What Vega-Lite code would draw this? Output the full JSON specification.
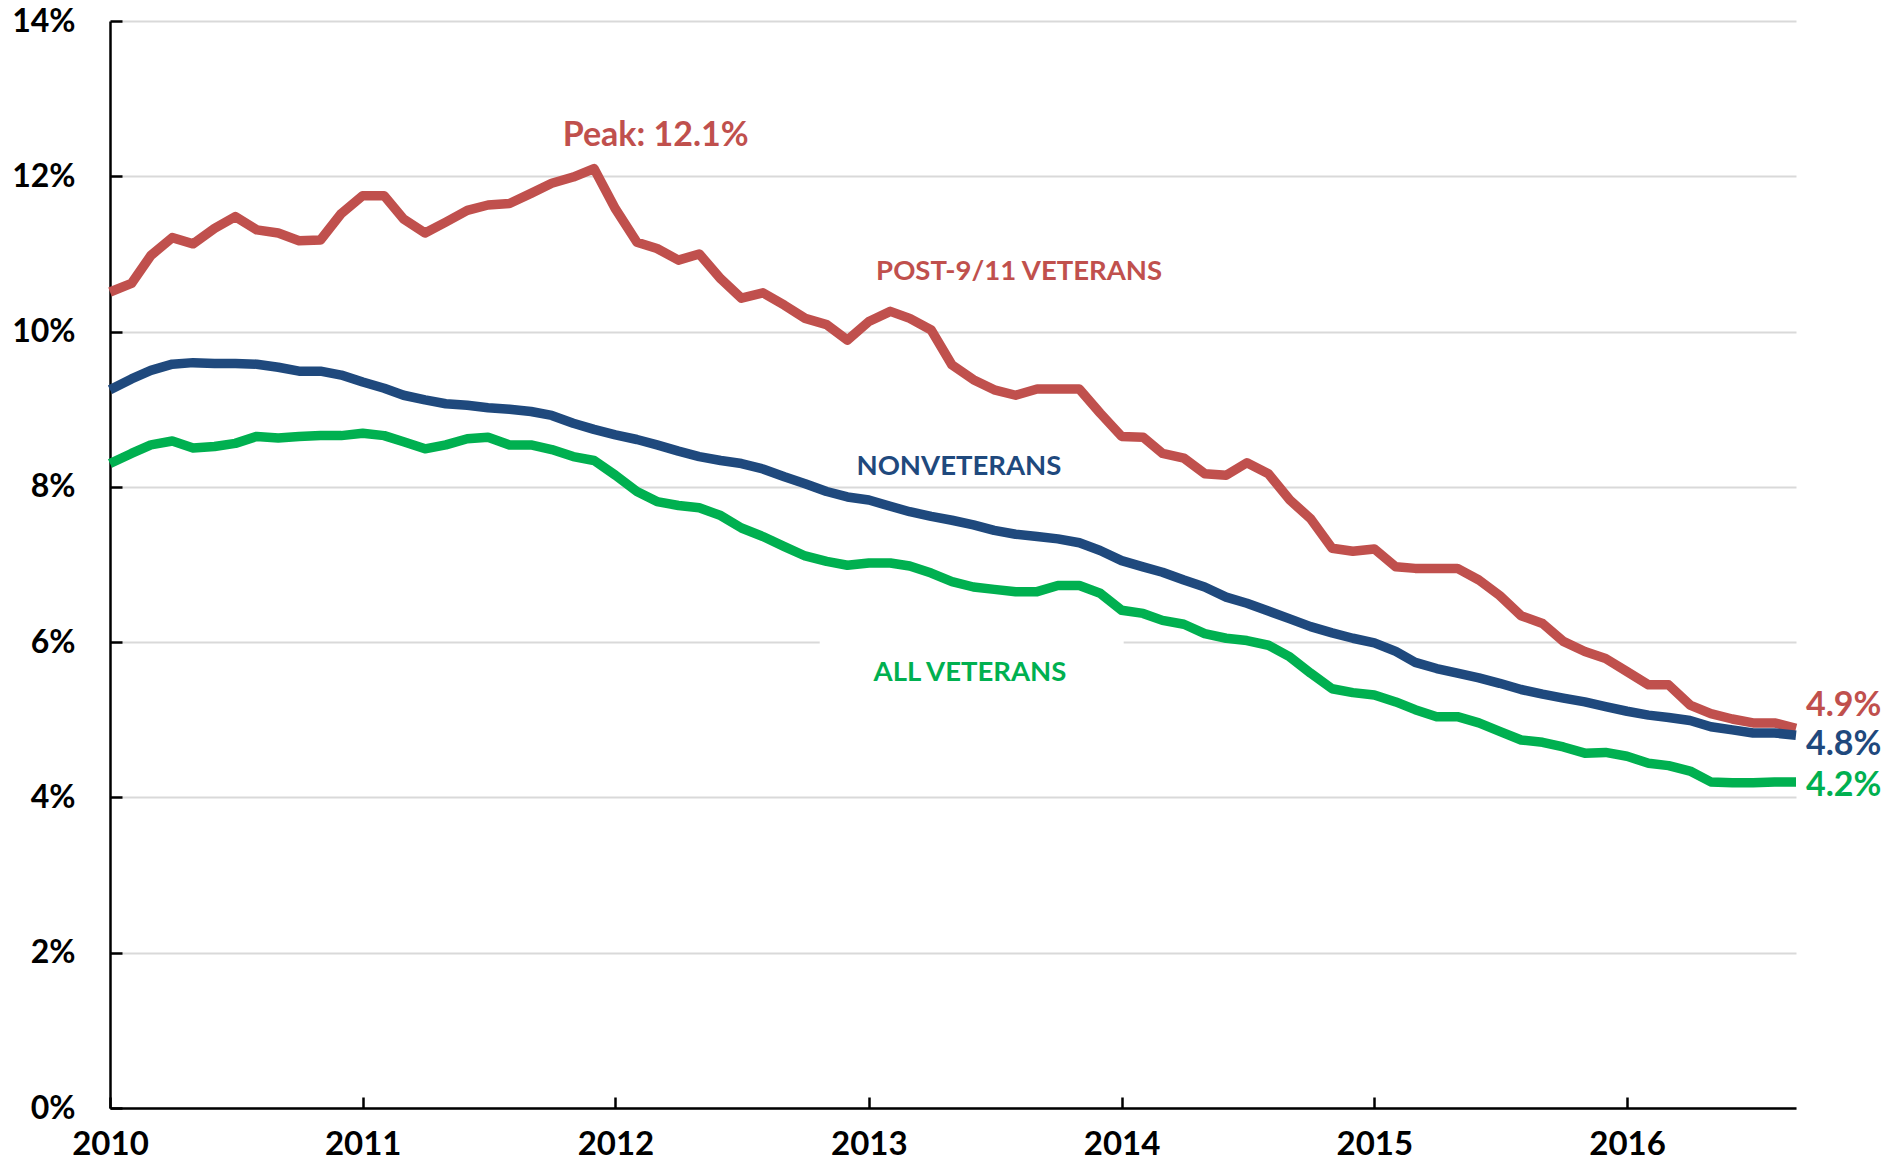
{
  "$schema": "https://vega.github.io/schema/vega-lite/v6.json",
  "width": 1686,
  "height": 1087,
  "autosize": {"type": "none"},
  "padding": {"left": 110, "top": 21, "right": 108, "bottom": 54},
  "background": "white",
  "config": {
    "view": {"stroke": null},
    "font": "Lato",
    "text": {"font": "Lato", "fontWeight": "bold"}
  },
  "encoding": {
    "x": {
      "field": "date",
      "type": "temporal",
      "title": null,
      "scale": {
        "type": "utc",
        "domain": [
          {"year": 2010, "month": 1, "date": 1, "utc": true},
          {"year": 2016, "month": 9, "date": 1, "utc": true}
        ]
      },
      "axis": {
        "values": [
          {"year": 2010, "month": 1, "date": 1, "utc": true},
          {"year": 2011, "month": 1, "date": 1, "utc": true},
          {"year": 2012, "month": 1, "date": 1, "utc": true},
          {"year": 2013, "month": 1, "date": 1, "utc": true},
          {"year": 2014, "month": 1, "date": 1, "utc": true},
          {"year": 2015, "month": 1, "date": 1, "utc": true},
          {"year": 2016, "month": 1, "date": 1, "utc": true}
        ],
        "format": "%Y",
        "formatType": "utc",
        "grid": false,
        "domainColor": "black",
        "domainWidth": 2.5,
        "tickColor": "black",
        "tickWidth": 2.5,
        "tickSize": -11,
        "labelPadding": 31,
        "labelFont": "Lato",
        "labelFontSize": 33,
        "labelFontWeight": "bold",
        "labelColor": "black",
        "labelFlush": false,
        "labelOverlap": false,
        "labelBound": false
      }
    },
    "y": {
      "field": "value",
      "type": "quantitative",
      "title": null,
      "scale": {"domain": [0, 14], "nice": false, "zero": true},
      "axis": {
        "values": [0, 2, 4, 6, 8, 10, 12, 14],
        "labelExpr": "datum.value + '%'",
        "grid": true,
        "gridColor": "#d9d9d9",
        "gridWidth": 2,
        "domainColor": "black",
        "domainWidth": 2.5,
        "tickColor": "black",
        "tickWidth": 2.5,
        "tickSize": -12,
        "labelPadding": 47,
        "labelFont": "Lato",
        "labelFontSize": 32,
        "labelFontWeight": "bold",
        "labelColor": "black",
        "labelFlush": false,
        "labelOverlap": false,
        "labelBound": false
      }
    }
  },
  "layer": [
    {
      "data": {"values": [{"date": "2012-10-22", "date2": "2014-01-04", "value": 5.93, "value2": 6.07}]},
      "mark": {"type": "rect", "color": "white"},
      "encoding": {
        "x2": {"field": "date2"},
        "y2": {"field": "value2"}
      }
    },
    {
      "data": {"values": [
        {"date": "2010-01-01", "post": 10.51, "non": 9.25, "all": 8.30},
        {"date": "2010-02-01", "post": 10.62, "non": 9.39, "all": 8.43},
        {"date": "2010-03-01", "post": 10.98, "non": 9.50, "all": 8.54},
        {"date": "2010-04-01", "post": 11.21, "non": 9.58, "all": 8.59},
        {"date": "2010-05-01", "post": 11.13, "non": 9.60, "all": 8.50},
        {"date": "2010-06-01", "post": 11.33, "non": 9.59, "all": 8.52},
        {"date": "2010-07-01", "post": 11.48, "non": 9.59, "all": 8.56},
        {"date": "2010-08-01", "post": 11.31, "non": 9.58, "all": 8.65},
        {"date": "2010-09-01", "post": 11.27, "non": 9.54, "all": 8.63},
        {"date": "2010-10-01", "post": 11.17, "non": 9.49, "all": 8.65},
        {"date": "2010-11-01", "post": 11.18, "non": 9.49, "all": 8.66},
        {"date": "2010-12-01", "post": 11.52, "non": 9.44, "all": 8.66},
        {"date": "2011-01-01", "post": 11.75, "non": 9.35, "all": 8.69},
        {"date": "2011-02-01", "post": 11.75, "non": 9.27, "all": 8.66},
        {"date": "2011-03-01", "post": 11.45, "non": 9.18, "all": 8.58},
        {"date": "2011-04-01", "post": 11.27, "non": 9.12, "all": 8.49},
        {"date": "2011-05-01", "post": 11.41, "non": 9.07, "all": 8.54},
        {"date": "2011-06-01", "post": 11.56, "non": 9.05, "all": 8.62},
        {"date": "2011-07-01", "post": 11.63, "non": 9.02, "all": 8.64},
        {"date": "2011-08-01", "post": 11.65, "non": 9.00, "all": 8.54},
        {"date": "2011-09-01", "post": 11.78, "non": 8.97, "all": 8.54},
        {"date": "2011-10-01", "post": 11.91, "non": 8.92, "all": 8.48},
        {"date": "2011-11-01", "post": 11.99, "non": 8.82, "all": 8.39},
        {"date": "2011-12-01", "post": 12.10, "non": 8.74, "all": 8.34},
        {"date": "2012-01-01", "post": 11.58, "non": 8.67, "all": 8.15},
        {"date": "2012-02-01", "post": 11.15, "non": 8.61, "all": 7.94},
        {"date": "2012-03-01", "post": 11.07, "non": 8.54, "all": 7.81},
        {"date": "2012-04-01", "post": 10.92, "non": 8.46, "all": 7.76},
        {"date": "2012-05-01", "post": 11.00, "non": 8.39, "all": 7.73},
        {"date": "2012-06-01", "post": 10.68, "non": 8.34, "all": 7.63},
        {"date": "2012-07-01", "post": 10.43, "non": 8.30, "all": 7.47},
        {"date": "2012-08-01", "post": 10.50, "non": 8.23, "all": 7.36},
        {"date": "2012-09-01", "post": 10.34, "non": 8.13, "all": 7.23},
        {"date": "2012-10-01", "post": 10.17, "non": 8.04, "all": 7.11},
        {"date": "2012-11-01", "post": 10.09, "non": 7.94, "all": 7.04},
        {"date": "2012-12-01", "post": 9.89, "non": 7.87, "all": 6.99},
        {"date": "2013-01-01", "post": 10.13, "non": 7.83, "all": 7.02},
        {"date": "2013-02-01", "post": 10.26, "non": 7.75, "all": 7.02},
        {"date": "2013-03-01", "post": 10.17, "non": 7.68, "all": 6.98},
        {"date": "2013-04-01", "post": 10.02, "non": 7.62, "all": 6.89},
        {"date": "2013-05-01", "post": 9.57, "non": 7.57, "all": 6.78},
        {"date": "2013-06-01", "post": 9.38, "non": 7.51, "all": 6.71},
        {"date": "2013-07-01", "post": 9.25, "non": 7.44, "all": 6.68},
        {"date": "2013-08-01", "post": 9.18, "non": 7.39, "all": 6.65},
        {"date": "2013-09-01", "post": 9.26, "non": 7.36, "all": 6.65},
        {"date": "2013-10-01", "post": 9.26, "non": 7.33, "all": 6.73},
        {"date": "2013-11-01", "post": 9.26, "non": 7.28, "all": 6.73},
        {"date": "2013-12-01", "post": 8.95, "non": 7.18, "all": 6.63},
        {"date": "2014-01-01", "post": 8.65, "non": 7.05, "all": 6.41},
        {"date": "2014-02-01", "post": 8.64, "non": 6.97, "all": 6.37},
        {"date": "2014-03-01", "post": 8.43, "non": 6.90, "all": 6.28},
        {"date": "2014-04-01", "post": 8.37, "non": 6.80, "all": 6.23},
        {"date": "2014-05-01", "post": 8.17, "non": 6.71, "all": 6.11},
        {"date": "2014-06-01", "post": 8.15, "non": 6.58, "all": 6.05},
        {"date": "2014-07-01", "post": 8.31, "non": 6.50, "all": 6.02},
        {"date": "2014-08-01", "post": 8.17, "non": 6.40, "all": 5.96},
        {"date": "2014-09-01", "post": 7.83, "non": 6.30, "all": 5.81},
        {"date": "2014-10-01", "post": 7.59, "non": 6.20, "all": 5.60},
        {"date": "2014-11-01", "post": 7.21, "non": 6.12, "all": 5.40},
        {"date": "2014-12-01", "post": 7.17, "non": 6.05, "all": 5.35},
        {"date": "2015-01-01", "post": 7.20, "non": 5.99, "all": 5.32},
        {"date": "2015-02-01", "post": 6.97, "non": 5.88, "all": 5.23},
        {"date": "2015-03-01", "post": 6.95, "non": 5.74, "all": 5.13},
        {"date": "2015-04-01", "post": 6.95, "non": 5.66, "all": 5.04},
        {"date": "2015-05-01", "post": 6.95, "non": 5.60, "all": 5.04},
        {"date": "2015-06-01", "post": 6.80, "non": 5.54, "all": 4.96},
        {"date": "2015-07-01", "post": 6.60, "non": 5.47, "all": 4.85},
        {"date": "2015-08-01", "post": 6.34, "non": 5.39, "all": 4.74},
        {"date": "2015-09-01", "post": 6.24, "non": 5.33, "all": 4.71},
        {"date": "2015-10-01", "post": 6.01, "non": 5.28, "all": 4.65},
        {"date": "2015-11-01", "post": 5.88, "non": 5.23, "all": 4.57},
        {"date": "2015-12-01", "post": 5.79, "non": 5.17, "all": 4.58},
        {"date": "2016-01-01", "post": 5.62, "non": 5.11, "all": 4.53},
        {"date": "2016-02-01", "post": 5.45, "non": 5.06, "all": 4.44},
        {"date": "2016-03-01", "post": 5.45, "non": 5.03, "all": 4.41},
        {"date": "2016-04-01", "post": 5.19, "non": 4.99, "all": 4.34},
        {"date": "2016-05-01", "post": 5.08, "non": 4.91, "all": 4.20},
        {"date": "2016-06-01", "post": 5.01, "non": 4.87, "all": 4.19},
        {"date": "2016-07-01", "post": 4.96, "non": 4.83, "all": 4.19},
        {"date": "2016-08-01", "post": 4.96, "non": 4.83, "all": 4.20},
        {"date": "2016-09-01", "post": 4.89, "non": 4.80, "all": 4.20}
      ]},
      "transform": [{"fold": ["post", "non", "all"], "as": ["series", "value"]}],
      "mark": {"type": "line", "strokeWidth": 9.5, "strokeJoin": "round", "strokeCap": "butt"},
      "encoding": {
        "color": {
          "field": "series",
          "type": "nominal",
          "legend": null,
          "scale": {"domain": ["post", "non", "all"], "range": ["#C0504D", "#1F497D", "#00B050"]}
        }
      }
    },
    {
      "data": {"values": [
        {"date": "2012-02-28", "value": 12.52, "series": "post", "label": "Peak: 12.1%"}
      ]},
      "mark": {"type": "text", "fontSize": 34, "fontWeight": "bold", "align": "center", "baseline": "middle"},
      "encoding": {
        "text": {"field": "label"},
        "color": {"field": "series", "type": "nominal", "legend": null}
      }
    },
    {
      "data": {"values": [
        {"date": "2013-08-06", "value": 10.77, "series": "post", "label": "POST-9/11 VETERANS"},
        {"date": "2013-05-11", "value": 8.25, "series": "non", "label": "NONVETERANS"},
        {"date": "2013-05-27", "value": 5.60, "series": "all", "label": "ALL VETERANS"}
      ]},
      "mark": {"type": "text", "fontSize": 27.5, "fontWeight": "bold", "align": "center", "baseline": "middle"},
      "encoding": {
        "text": {"field": "label"},
        "color": {"field": "series", "type": "nominal", "legend": null}
      }
    },
    {
      "data": {"values": [
        {"date": "2016-09-01", "value": 5.18, "series": "post", "label": "4.9%"},
        {"date": "2016-09-01", "value": 4.67, "series": "non", "label": "4.8%"},
        {"date": "2016-09-01", "value": 4.15, "series": "all", "label": "4.2%"}
      ]},
      "mark": {"type": "text", "fontSize": 34, "fontWeight": "bold", "align": "left", "baseline": "middle", "dx": 10},
      "encoding": {
        "text": {"field": "label"},
        "color": {"field": "series", "type": "nominal", "legend": null}
      }
    }
  ]
}
